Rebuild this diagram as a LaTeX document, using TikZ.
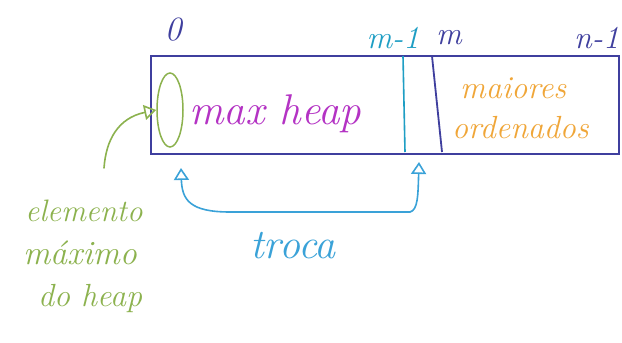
\documentclass[tikz,border=0pt]{standalone}
\usetikzlibrary{arrows.meta,shapes.geometric}
\definecolor{navy}{HTML}{3F3F9E}
\definecolor{teal2}{HTML}{1E9EC4}
\definecolor{purp}{HTML}{B433C4}
\definecolor{orng}{HTML}{F0A638}
\definecolor{grn}{HTML}{8CB24E}
\definecolor{swp}{HTML}{3AA2D8}
\tikzset{
  lbl/.style={inner sep=0pt},
  cell/.style={draw=navy, line width=2pt, inner sep=0pt},
  hand/.style={line width=1.6pt, line cap=round, line join=round},
  openhead/.style={-{Triangle[open, length=12pt, width=15pt, line width=1.6pt]}}
}
\begin{document}
\begin{tikzpicture}[x=1pt, y=-1pt]
\useasboundingbox[fill=white] (0,0) rectangle (622,343);
% array box
\node[cell, minimum width=468pt, minimum height=98pt, anchor=north west] (arr) at (150,55) {};
\coordinate (d1t) at (403,56);
\coordinate (d1b) at (405,152);
\coordinate (d2t) at (432,56);
\coordinate (d2b) at (442,152);
\draw[teal2, line width=1.6pt] (d1t) -- (d1b);
\draw[navy, line width=1.8pt] (d2t) -- (d2b);
% index labels
\node[lbl, navy, font=\itshape\fontsize{34}{34}\selectfont] (i0) at (173,30) {0};
\node[lbl, teal2, font=\itshape\fontsize{32}{32}\selectfont] (im1) at (393,38) {m-1};
\node[lbl, navy, font=\itshape\fontsize{32}{32}\selectfont] (im) at (449,38) {m};
\node[lbl, navy, font=\itshape\fontsize{32}{32}\selectfont, anchor=west] (in1) at (574,38) {n-1};
% contents
\node[draw=grn, line width=1.5pt, ellipse, minimum width=26pt, minimum height=74pt, inner sep=0pt] (maxel) at (170,110) {};
\node[lbl, purp, font=\itshape\fontsize{43}{43}\selectfont, anchor=west] (heap) at (189,114) {max heap};
\node[lbl, orng, font=\itshape\fontsize{32}{32}\selectfont, anchor=west] (mai) at (460,88) {maiores};
\node[lbl, orng, font=\itshape\fontsize{32}{32}\selectfont, anchor=west] (ord) at (452,128) {ordenados};
% green annotation
\node[lbl, grn, font=\itshape\fontsize{31}{31}\selectfont] (el) at (84,211) {elemento};
\node[lbl, grn, font=\itshape\fontsize{34}{34}\selectfont] (mx) at (80,253) {máximo};
\node[lbl, grn, font=\itshape\fontsize{32}{32}\selectfont] (dh) at (90,298) {do heap};
\coordinate (gstart) at (104,168);
\draw[grn, hand, openhead] (gstart) .. controls (106,140) and (118,118) .. (maxel.west);
% swap arrow
\coordinate (sl) at (181,168);
\coordinate (sr) at (419,162);
\node[lbl, swp, font=\itshape\fontsize{42}{42}\selectfont] (troca) at (293,246) {troca};
\draw[swp, hand, openhead] (410,212) .. controls (418,210) and (418,195) .. (sr);
\draw[swp, hand, openhead] (410,212) -- (230,212) .. controls (190,212) and (182,200) .. (sl);
\end{tikzpicture}
\end{document}
